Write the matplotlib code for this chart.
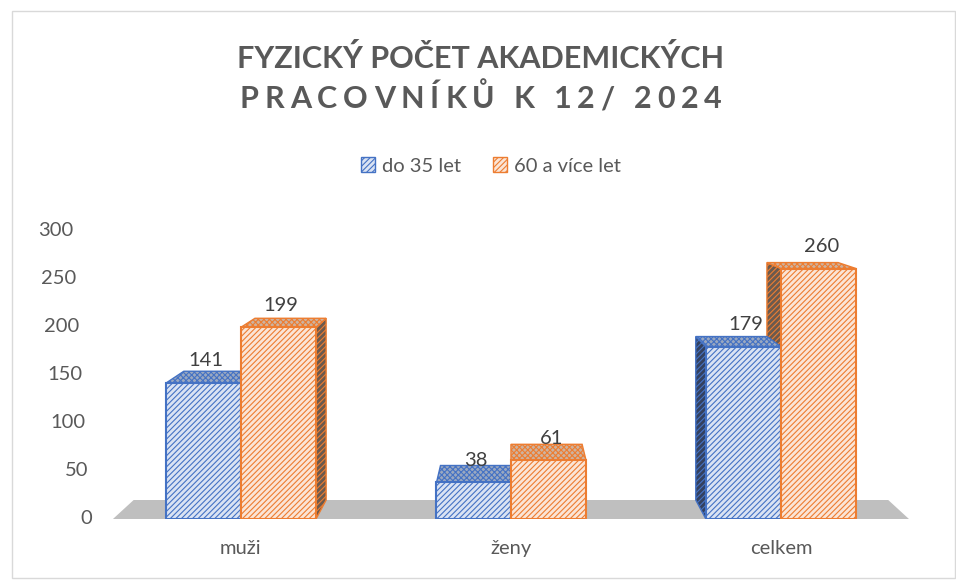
import matplotlib.pyplot as plt
from matplotlib.patches import Polygon, Patch, Rectangle

# --- DATA ---
categories = ['muži', 'ženy', 'celkem']
series_names = ['do 35 let', '60 a více let']
young = [141, 38, 179]
old = [199, 61, 260]
yticks = [0, 50, 100, 150, 200, 250, 300]
title_1 = 'FYZICKÝ POČET AKADEMICKÝCH'
title_2 = 'PRACOVNÍKŮ K 12/ 2024'

# --- STYLE ---
TEXT = '#595959'
BLUE = '#4472c4'
ORANGE = '#ed7d31'
FRONT = {'blue': '#dae3f3', 'orange': '#fbe5d6'}
TOP = {'blue': '#9aa8c0', 'orange': '#cdb3a0'}
SIDE = {'blue': '#34415f', 'orange': '#6b5a4e'}
BAR_W = 0.278
VP = (1.0, 379.0)   # vanishing point (data coords) for the fake 3D look
K = 0.052           # depth factor
FS = 14.5
HATCH = '//////'

plt.rcParams['font.family'] = ['Lato', 'DejaVu Sans']
plt.rcParams['hatch.linewidth'] = 0.8

fig = plt.figure(figsize=(9.56, 5.81), dpi=100)
fig.patch.set_facecolor('white')
fig.patches.append(Rectangle((12 / 956, 3 / 581), 943 / 956, 567 / 581,
                             transform=fig.transFigure, fill=False,
                             edgecolor='#d9d9d9', lw=1))

ax = fig.add_axes([80 / 956, 62 / 581, 860 / 956, 289 / 581])
ax.set_xlim(-0.596, 2.589)
ax.set_ylim(0, 300)
for s in ax.spines.values():
    s.set_visible(False)


def back(x, y):
    return x + K * (VP[0] - x), y + K * (VP[1] - y)


# floor
fl, fr = -0.474, 2.474
floor = [(fl, 0), (fr, 0), back(fr, 0), back(fl, 0)]
ax.add_patch(Polygon(floor, closed=True, fc='#bfbfbf', ec='none', zorder=1))

# bars
for vals, off, key, col in [(young, -BAR_W, 'blue', BLUE), (old, 0.0, 'orange', ORANGE)]:
    for i, v in enumerate(vals):
        x0 = i + off
        x1 = x0 + BAR_W
        # visible side face
        if VP[0] > x1 + 0.01:
            xs = x1
        elif VP[0] < x0 - 0.01:
            xs = x0
        else:
            xs = None
        if xs is not None:
            side = [(xs, 0), (xs, v), back(xs, v), back(xs, 0)]
            ax.add_patch(Polygon(side, closed=True, fc=SIDE[key], ec=col,
                                 lw=1, hatch=HATCH, zorder=2))
        top = [(x0, v), (x1, v), back(x1, v), back(x0, v)]
        ax.add_patch(Polygon(top, closed=True, fc=TOP[key], ec=col, lw=1,
                             hatch='xxxxxx', zorder=3))
    ax.bar([i + off for i in range(len(vals))], vals, width=BAR_W, align='edge',
           color=FRONT[key], edgecolor=col, lw=1.5, hatch=HATCH, zorder=4)
    for i, v in enumerate(vals):
        ax.annotate(str(v), (i + off + BAR_W / 2, v), xytext=(2, 16),
                    textcoords='offset points', ha='center', va='center',
                    fontsize=FS, color='#404040', zorder=6)

# slanted y tick labels
ax.set_yticks([])
for t in yticks:
    xpx = 92 - 19 * t / 300
    ax.text((xpx - 80) / 860, t, str(t), transform=ax.get_yaxis_transform(),
            ha='right', va='center', fontsize=FS, color=TEXT)

ax.set_xticks(range(len(categories)))
ax.set_xticklabels(categories, fontsize=FS, color=TEXT)
ax.tick_params(axis='x', length=0, pad=15)

# title: line 1 plain, line 2 letter-spaced to the same width
fig.text(481 / 956, 1 - 68 / 581, title_1, ha='center', va='baseline',
         fontsize=22, fontweight='bold', color=TEXT)
renderer = fig.canvas.get_renderer()
tmp = fig.text(0, 0, '', fontsize=22, fontweight='bold')


def width_px(s):
    tmp.set_text(s + '|')
    w = tmp.get_window_extent(renderer).width
    tmp.set_text('|')
    return w - tmp.get_window_extent(renderer).width


full_w = width_px(title_2)
target_w = 482
spacing = (target_w - full_w) / (len(title_2) - 1)
x_start = 240
for i, ch in enumerate(title_2):
    if ch == ' ':
        continue
    xpx = x_start + width_px(title_2[:i]) + i * spacing
    fig.text(xpx / 956, 1 - 108 / 581, ch, ha='left', va='baseline',
             fontsize=22, fontweight='bold', color=TEXT)
tmp.remove()

handles = [Patch(fc=FRONT['blue'], ec=BLUE, hatch=HATCH, label=series_names[0]),
           Patch(fc=FRONT['orange'], ec=ORANGE, hatch=HATCH, label=series_names[1])]
fig.legend(handles=handles, loc='center', bbox_to_anchor=(491 / 956, 1 - 166 / 581),
           ncol=2, frameon=False, fontsize=FS, labelcolor=TEXT,
           handlelength=0.7, handleheight=0.7, handletextpad=0.35, columnspacing=1.6)

plt.savefig('out.png', dpi=100, facecolor='white')
